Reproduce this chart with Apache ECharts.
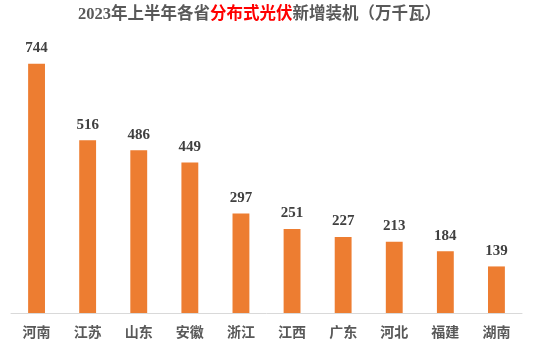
<!DOCTYPE html>
<html>
<head>
<meta charset="utf-8">
<script src="https://cdn.jsdelivr.net/npm/echarts@6/dist/echarts.min.js"></script>
<style>
    html, body { margin: 0; padding: 0; background: #fff; }
    #main { width: 544px; height: 351px; }
</style>
</head>
<body>
<div id="main"></div>
<script>
    let provinces = ['河南', '江苏', '山东', '安徽', '浙江', '江西', '广东', '河北', '福建', '湖南'];
    let addedCapacity = [744, 516, 486, 449, 297, 251, 227, 213, 184, 139];

    let myChart = echarts.init(document.getElementById('main'));
    let titleFont = "'Liberation Serif', 'Noto Sans CJK SC'";
    let option = {
        animation: false,
        title: {
            left: 78,
            top: 6,
            padding: 0,
            text: '{a|2023年上半年各省}{b|分布式光伏}{a|新增装机（万千瓦）}',
            textStyle: {
                rich: {
                    a: {fontSize: 16.5, fontWeight: 'bold', color: '#595959', fontFamily: titleFont},
                    b: {fontSize: 16.5, fontWeight: 'bold', color: '#ff0000', fontFamily: titleFont}
                }
            }
        },
        grid: {left: 11, right: 22, top: 45, bottom: 38},
        xAxis: {
            type: 'category',
            data: provinces,
            axisLine: {lineStyle: {color: '#d9d9d9', width: 1}},
            axisTick: {show: false},
            axisLabel: {
                margin: 12,
                fontSize: 14,
                fontWeight: 'bold',
                color: '#595959',
                fontFamily: 'Noto Sans CJK SC'
            }
        },
        yAxis: {
            type: 'value',
            min: 0,
            max: 800,
            show: false,
            splitLine: {show: false}
        },
        series: [
            {
                type: 'bar',
                data: addedCapacity,
                barWidth: '33%',
                itemStyle: {color: '#ed7d31'},
                label: {
                    show: true,
                    position: 'top',
                    distance: 8,
                    fontSize: 15,
                    fontWeight: 'bold',
                    color: '#404040',
                    fontFamily: 'Liberation Serif'
                }
            }
        ]
    };
    myChart.setOption(option);
</script>
</body>
</html>
